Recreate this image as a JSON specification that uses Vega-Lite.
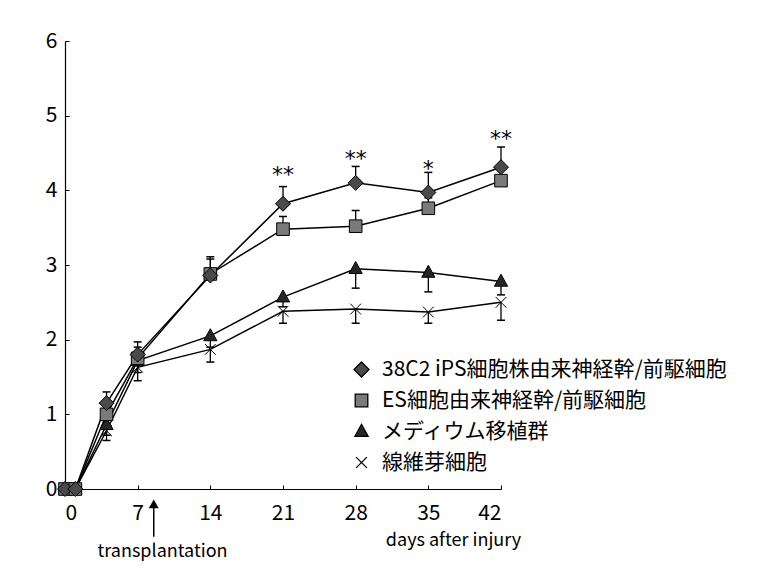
{
  "$schema": "https://vega.github.io/schema/vega-lite/v6.json",
  "width": 436,
  "height": 448,
  "autosize": {"type": "none"},
  "padding": {"left": 65, "top": 41, "right": 258, "bottom": 89},
  "background": "white",
  "config": {
    "font": "Noto Sans CJK JP",
    "view": {"stroke": null},
    "axis": {
      "domainColor": "black",
      "domainWidth": 1.2,
      "tickColor": "black",
      "tickSize": -4,
      "grid": false,
      "labelFont": "Noto Sans CJK JP",
      "labelFontSize": 21,
      "labelColor": "black",
      "titleFont": "Noto Sans CJK JP",
      "titleColor": "black"
    },
    "legend": {
      "orient": "none",
      "legendX": 286,
      "legendY": 318,
      "title": null,
      "padding": 0,
      "labelFont": "Noto Sans CJK JP",
      "labelFontSize": 21,
      "labelColor": "black",
      "labelLimit": 500,
      "labelOffset": 10,
      "rowPadding": 9,
      "symbolSize": 144,
      "symbolStrokeColor": "black",
      "symbolStrokeWidth": 1.3,
      "symbolOpacity": 1
    }
  },
  "datasets": {
    "series": [
      {"group": "線維芽細胞", "day": 0, "value": 0, "err": null},
      {"group": "線維芽細胞", "day": 1, "value": 0, "err": null},
      {"group": "線維芽細胞", "day": 4, "value": 0.78, "err": 0.65},
      {"group": "線維芽細胞", "day": 7, "value": 1.63, "err": 1.45},
      {"group": "線維芽細胞", "day": 14, "value": 1.87, "err": 1.7},
      {"group": "線維芽細胞", "day": 21, "value": 2.38, "err": 2.22},
      {"group": "線維芽細胞", "day": 28, "value": 2.41, "err": 2.22},
      {"group": "線維芽細胞", "day": 35, "value": 2.37, "err": 2.22},
      {"group": "線維芽細胞", "day": 42, "value": 2.5, "err": 2.26},
      {"group": "メディウム移植群", "day": 0, "value": 0, "err": null},
      {"group": "メディウム移植群", "day": 1, "value": 0, "err": null},
      {"group": "メディウム移植群", "day": 4, "value": 0.86, "err": 0.72},
      {"group": "メディウム移植群", "day": 7, "value": 1.72, "err": 1.56},
      {"group": "メディウム移植群", "day": 14, "value": 2.05, "err": 1.9},
      {"group": "メディウム移植群", "day": 21, "value": 2.57, "err": 2.44},
      {"group": "メディウム移植群", "day": 28, "value": 2.95, "err": 2.69},
      {"group": "メディウム移植群", "day": 35, "value": 2.9, "err": 2.64},
      {"group": "メディウム移植群", "day": 42, "value": 2.78, "err": 2.6},
      {"group": "ES細胞由来神経幹/前駆細胞", "day": 0, "value": 0, "err": null},
      {"group": "ES細胞由来神経幹/前駆細胞", "day": 1, "value": 0, "err": null},
      {"group": "ES細胞由来神経幹/前駆細胞", "day": 4, "value": 1.0, "err": 1.15},
      {"group": "ES細胞由来神経幹/前駆細胞", "day": 7, "value": 1.75, "err": 1.9},
      {"group": "ES細胞由来神経幹/前駆細胞", "day": 14, "value": 2.88, "err": 3.08},
      {"group": "ES細胞由来神経幹/前駆細胞", "day": 21, "value": 3.48, "err": 3.65},
      {"group": "ES細胞由来神経幹/前駆細胞", "day": 28, "value": 3.52, "err": 3.73},
      {"group": "ES細胞由来神経幹/前駆細胞", "day": 35, "value": 3.76, "err": 3.9},
      {"group": "ES細胞由来神経幹/前駆細胞", "day": 42, "value": 4.13, "err": 4.28},
      {"group": "38C2 iPS細胞株由来神経幹/前駆細胞", "day": 0, "value": 0, "err": null},
      {"group": "38C2 iPS細胞株由来神経幹/前駆細胞", "day": 1, "value": 0, "err": null},
      {"group": "38C2 iPS細胞株由来神経幹/前駆細胞", "day": 4, "value": 1.15, "err": 1.3},
      {"group": "38C2 iPS細胞株由来神経幹/前駆細胞", "day": 7, "value": 1.8, "err": 1.97},
      {"group": "38C2 iPS細胞株由来神経幹/前駆細胞", "day": 14, "value": 2.86, "err": 3.11},
      {"group": "38C2 iPS細胞株由来神経幹/前駆細胞", "day": 21, "value": 3.82, "err": 4.05},
      {"group": "38C2 iPS細胞株由来神経幹/前駆細胞", "day": 28, "value": 4.1, "err": 4.32},
      {"group": "38C2 iPS細胞株由来神経幹/前駆細胞", "day": 35, "value": 3.97, "err": 4.24},
      {"group": "38C2 iPS細胞株由来神経幹/前駆細胞", "day": 42, "value": 4.31, "err": 4.58}
    ],
    "stars": [
      {"day": 21, "value": 4.29, "label": "**"},
      {"day": 28, "value": 4.5, "label": "**"},
      {"day": 35, "value": 4.37, "label": "*"},
      {"day": 42, "value": 4.77, "label": "**"}
    ],
    "transplant": [
      {"day": 8.55, "value": -0.64, "value2": -0.2, "label": "transplantation", "labelDay": 9.4, "labelValue": -0.85}
    ]
  },
  "layer": [
    {
      "data": {"name": "series"},
      "mark": {"type": "line", "stroke": "black", "strokeWidth": 1.5},
      "encoding": {
        "x": {
          "field": "day", "type": "quantitative",
          "scale": {"domain": [0, 42], "nice": false},
          "axis": {
            "values": [0, 7, 14, 21, 28, 35, 42],
            "format": "d",
            "labelPadding": 17,
            "title": "days after injury",
            "titleFontSize": 18,
            "titleFontWeight": "normal",
            "titleX": 388,
            "titleY": 51,
            "titleAlign": "center",
            "titleBaseline": "middle"
          }
        },
        "y": {
          "field": "value", "type": "quantitative",
          "scale": {"domain": [0, 6], "nice": false},
          "axis": {"values": [0, 1, 2, 3, 4, 5, 6], "format": "d", "labelPadding": 12, "title": null}
        },
        "detail": {"field": "group"}
      }
    },
    {
      "data": {"name": "series"},
      "transform": [{"filter": "isValid(datum.err)"}],
      "mark": {"type": "rule", "stroke": "black", "strokeWidth": 1.3},
      "encoding": {
        "x": {"field": "day", "type": "quantitative"},
        "y": {"field": "value", "type": "quantitative"},
        "y2": {"field": "err"}
      }
    },
    {
      "data": {"name": "series"},
      "transform": [{"filter": "isValid(datum.err)"}],
      "mark": {"type": "point", "shape": "M-1,0H1", "size": 64, "stroke": "black", "strokeWidth": 1.5, "filled": false, "opacity": 1},
      "encoding": {
        "x": {"field": "day", "type": "quantitative"},
        "y": {"field": "err", "type": "quantitative"}
      }
    },
    {
      "data": {"name": "series"},
      "mark": {"type": "point", "filled": true, "stroke": "black", "strokeWidth": 1, "size": 144, "opacity": 1},
      "encoding": {
        "x": {"field": "day", "type": "quantitative"},
        "y": {"field": "value", "type": "quantitative"},
        "shape": {
          "field": "group", "type": "nominal",
          "scale": {
            "domain": ["38C2 iPS細胞株由来神経幹/前駆細胞", "ES細胞由来神経幹/前駆細胞", "メディウム移植群", "線維芽細胞"],
            "range": ["M0,-1.25L1.25,0L0,1.25L-1.25,0Z", "M-1.05,-1.05H1.05V1.05H-1.05Z", "M0,-1.2L1.1,0.8H-1.1Z", "M-0.9,-0.9L0.9,0.9M-0.9,0.9L0.9,-0.9"]
          },
          "legend": {
            "encode": {
              "symbols": {
                "update": {
                  "stroke": {"value": "black"},
                  "strokeWidth": {"value": 1.3}
                }
              }
            }
          }
        },
        "fill": {
          "field": "group", "type": "nominal",
          "scale": {
            "domain": ["38C2 iPS細胞株由来神経幹/前駆細胞", "ES細胞由来神経幹/前駆細胞", "メディウム移植群", "線維芽細胞"],
            "range": ["#4a4a4a", "#7a7a7a", "#262626", "#ffffff"]
          },
          "legend": {
            "encode": {
              "symbols": {
                "update": {
                  "stroke": {"value": "black"},
                  "strokeWidth": {"value": 1.3}
                }
              }
            }
          }
        }
      }
    },
    {
      "data": {"name": "stars"},
      "mark": {"type": "text", "fontSize": 22, "font": "DejaVu Sans", "color": "black", "baseline": "alphabetic", "align": "center", "dy": 13},
      "encoding": {
        "x": {"field": "day", "type": "quantitative"},
        "y": {"field": "value", "type": "quantitative"},
        "text": {"field": "label"}
      }
    },
    {
      "data": {"name": "transplant"},
      "mark": {"type": "rule", "stroke": "black", "strokeWidth": 1.5},
      "encoding": {
        "x": {"field": "day", "type": "quantitative"},
        "y": {"field": "value", "type": "quantitative"},
        "y2": {"field": "value2"}
      }
    },
    {
      "data": {"name": "transplant"},
      "mark": {"type": "point", "shape": "triangle-up", "size": 100, "filled": true, "color": "black", "opacity": 1},
      "encoding": {
        "x": {"field": "day", "type": "quantitative"},
        "y": {"field": "value2", "type": "quantitative"}
      }
    },
    {
      "data": {"name": "transplant"},
      "mark": {"type": "text", "fontSize": 18, "font": "Noto Sans CJK JP", "color": "black", "baseline": "middle", "align": "center"},
      "encoding": {
        "x": {"field": "labelDay", "type": "quantitative"},
        "y": {"field": "labelValue", "type": "quantitative"},
        "text": {"field": "label"}
      }
    }
  ]
}
